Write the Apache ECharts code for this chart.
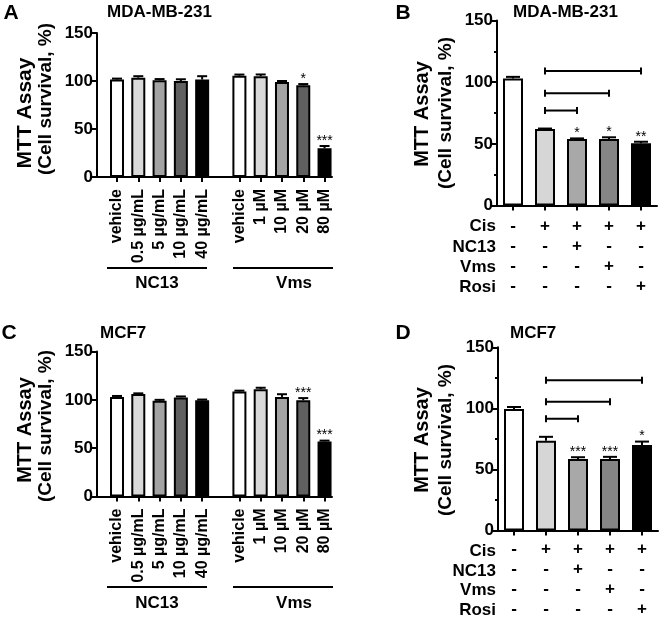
<!DOCTYPE html>
<html><head><meta charset="utf-8">
<script src="https://cdn.jsdelivr.net/npm/echarts@6/dist/echarts.min.js"></script>
<style>html,body{margin:0;padding:0;background:#fff}#c{width:660px;height:619px}</style>
</head><body><div id="c"></div>
<script>
// ---------- data ----------
const nc13Doses = ['vehicle', '0.5 µg/mL', '5 µg/mL', '10 µg/mL', '40 µg/mL'];
const vmsDoses = ['vehicle', '1 µM', '10 µM', '20 µM', '80 µM'];
const groupNames = ['NC13', 'Vms'];

// Panel A: MDA-MB-231 dose response
const mdaNC13 = [101.5, 103.5, 100.8, 100.0, 101.5];
const mdaNC13Err = [1.0, 1.5, 1.2, 1.8, 3.5];
const mdaNC13Sig = ['', '', '', '', ''];
const mdaVms = [105.5, 105.0, 99.0, 95.5, 30.0];
const mdaVmsErr = [1.2, 1.8, 1.0, 1.3, 2.3];
const mdaVmsSig = ['', '', '', '*', '***'];

// Panel C: MCF7 dose response
const mcfNC13 = [103.0, 106.0, 99.0, 102.5, 99.5];
const mcfNC13Err = [1.0, 0.7, 1.0, 1.0, 0.8];
const mcfNC13Sig = ['', '', '', '', ''];
const mcfVms = [108.5, 111.0, 103.0, 99.5, 57.0];
const mcfVmsErr = [1.0, 1.5, 2.8, 2.3, 0.8];
const mcfVmsSig = ['', '', '', '***', '***'];

// Panels B / D: combination treatments
const treatRows = ['Cis', 'NC13', 'Vms', 'Rosi'];
const treatSigns = [
  ['-', '+', '+', '+', '+'],
  ['-', '-', '+', '-', '-'],
  ['-', '-', '-', '+', '-'],
  ['-', '-', '-', '-', '+']
];
const mdaCombo = [103.0, 62.0, 54.0, 54.0, 50.5];
const mdaComboErr = [1.3, 0.4, 0.4, 1.3, 1.2];
const mdaComboSig = ['', '', '*', '*', '**'];
const mcfCombo = [99.5, 73.5, 58.5, 58.5, 70.0];
const mcfComboErr = [1.6, 3.2, 1.5, 1.8, 2.8];
const mcfComboSig = ['', '', '***', '***', '*'];
const comparePairs = [[1, 2], [1, 3], [1, 4]];
const mdaBracketLevels = [77, 91, 109];
const mcfBracketLevels = [91.5, 105.5, 123];

const yTicks = [0, 50, 100, 150];

// ---------- styling ----------
const FF = '"Liberation Sans", Arial, Helvetica, sans-serif';
const doseColors = ['#ffffff', '#d9d9d9', '#a3a3a3', '#606060', '#000000'];
const comboColors = ['#ffffff', '#d6d6d6', '#a8a8a8', '#858585', '#000000'];
const GAP = 0.75;

const chart = echarts.init(document.getElementById('c'));

const grids = [
  {left: 97, top: 33, width: 235, height: 144},     // A
  {left: 497, top: 20.5, width: 160, height: 185},  // B
  {left: 97, top: 351.5, width: 235, height: 145},  // C
  {left: 498, top: 347.3, width: 160, height: 186}  // D
];

const xAxes = [], yAxes = [], series = [];

function yAxisFor(gi, minor) {
  return {
    type: 'value', gridIndex: gi, min: yTicks[0], max: yTicks[yTicks.length - 1], interval: 50,
    axisLine: {show: true, onZero: false, lineStyle: {color: '#000', width: 2}},
    axisTick: {show: true, length: 5, lineStyle: {color: '#000', width: 2}},
    minorTick: {show: !!minor, splitNumber: 2, length: 3, lineStyle: {color: '#000', width: 2}},
    axisLabel: {margin: 4, color: '#000', fontSize: 17, fontWeight: 'bold', fontFamily: FF},
    splitLine: {show: false}
  };
}

function errSeries(gi, data, sigs, capHalf) {
  return {
    type: 'custom', xAxisIndex: gi, yAxisIndex: gi, z: 5,
    data: data,
    renderItem: function (params, api) {
      const x = api.value(0), v = api.value(1), e = api.value(2);
      const p0 = api.coord([x, v]);
      const p1 = api.coord([x, v + e]);
      const ch = [
        {type: 'line', shape: {x1: p0[0], y1: p0[1], x2: p1[0], y2: p1[1]}, style: {stroke: '#000', lineWidth: 2}},
        {type: 'line', shape: {x1: p1[0] - capHalf, y1: p1[1], x2: p1[0] + capHalf, y2: p1[1]}, style: {stroke: '#000', lineWidth: 2}}
      ];
      const s = sigs[params.dataIndex];
      if (s) ch.push({type: 'text', style: {text: s, x: p1[0], y: p1[1] + 2, align: 'center', verticalAlign: 'bottom', font: '14px ' + FF, fill: '#000'}});
      return {type: 'group', children: ch};
    }
  };
}

function dosePanel(gi, v1, e1, s1, v2, e2, s2) {
  const pos = [], labels = [], vals = [], errs = [], sigs = [];
  [[nc13Doses, v1, e1, s1], [vmsDoses, v2, e2, s2]].forEach(function (g, gIdx) {
    g[0].forEach(function (lab, i) {
      pos.push(gIdx * (g[0].length + GAP) + i);
      labels.push(lab); vals.push(g[1][i]); errs.push(g[2][i]); sigs.push(g[3][i]);
    });
  });
  xAxes.push({
    type: 'value', gridIndex: gi, min: -0.94, max: 10.1,
    axisLine: {show: true, onZero: false, lineStyle: {color: '#000', width: 2}},
    axisTick: {show: true, customValues: pos, length: 5, lineStyle: {color: '#000', width: 2}},
    axisLabel: {
      customValues: pos, rotate: 90, margin: 12, color: '#000', fontSize: 16, fontWeight: 'bold', fontFamily: FF,
      formatter: function (v) {
        let best = 0;
        pos.forEach(function (p, i) { if (Math.abs(p - v) < Math.abs(pos[best] - v)) best = i; });
        return labels[best];
      }
    },
    splitLine: {show: false}
  });
  yAxes.push(yAxisFor(gi, false));
  series.push({
    type: 'bar', xAxisIndex: gi, yAxisIndex: gi, barWidth: 14,
    data: pos.map(function (p, i) { return {value: [p, vals[i]], itemStyle: {color: doseColors[i % 5]}}; }),
    itemStyle: {borderColor: '#000', borderWidth: 2}
  });
  series.push(errSeries(gi, pos.map(function (p, i) { return [p, vals[i], errs[i]]; }), sigs, 5));
}

function comboPanel(gi, vals, errs, sigs, levels, labelMargin) {
  const cats = treatSigns[0].map(function (_, c) { return treatSigns.map(function (r) { return r[c]; }).join('\n'); });
  xAxes.push({
    type: 'category', gridIndex: gi, data: cats,
    axisLine: {show: true, lineStyle: {color: '#000', width: 2}},
    axisTick: {show: true, alignWithLabel: true, length: 5, lineStyle: {color: '#000', width: 2}},
    axisLabel: {interval: 0, margin: labelMargin, color: '#000', fontSize: 17, fontWeight: 'bold', fontFamily: FF, lineHeight: 20},
    splitLine: {show: false}
  });
  yAxes.push(yAxisFor(gi, true));
  series.push({
    type: 'bar', xAxisIndex: gi, yAxisIndex: gi, barWidth: 20,
    data: vals.map(function (v, i) { return {value: v, itemStyle: {color: comboColors[i]}}; }),
    itemStyle: {borderColor: '#000', borderWidth: 2}
  });
  series.push(errSeries(gi, vals.map(function (v, i) { return [i, v, errs[i]]; }), sigs, 7));
  series.push({
    type: 'custom', xAxisIndex: gi, yAxisIndex: gi, z: 6,
    encode: {x: [0, 1], y: 2},
    data: comparePairs.map(function (pr, k) { return [pr[0], pr[1], levels[k]]; }),
    renderItem: function (params, api) {
      const a = api.coord([api.value(0), api.value(2)]);
      const b = api.coord([api.value(1), api.value(2)]);
      const st = {stroke: '#000', lineWidth: 2};
      return {type: 'group', children: [
        {type: 'line', shape: {x1: a[0], y1: a[1], x2: b[0], y2: b[1]}, style: st},
        {type: 'line', shape: {x1: a[0], y1: a[1] - 3.5, x2: a[0], y2: a[1] + 3.5}, style: st},
        {type: 'line', shape: {x1: b[0], y1: b[1] - 3.5, x2: b[0], y2: b[1] + 3.5}, style: st}
      ]};
    }
  });
}

dosePanel(0, mdaNC13, mdaNC13Err, mdaNC13Sig, mdaVms, mdaVmsErr, mdaVmsSig);
comboPanel(1, mdaCombo, mdaComboErr, mdaComboSig, mdaBracketLevels, 11);
dosePanel(2, mcfNC13, mcfNC13Err, mcfNC13Sig, mcfVms, mcfVmsErr, mcfVmsSig);
comboPanel(3, mcfCombo, mcfComboErr, mcfComboSig, mcfBracketLevels, 8.5);

// ---------- text annotations ----------
const g = [];
function txt(t, x, y, font, align, rot) {
  g.push({type: 'text', x: x, y: y, rotation: rot || 0, style: {text: t, font: font, fill: '#000', align: align || 'center', verticalAlign: 'middle'}});
}
function hline(x1, x2, y) {
  g.push({type: 'line', shape: {x1: x1, y1: y, x2: x2, y2: y}, style: {stroke: '#000', lineWidth: 2}});
}
const bold = function (s) { return 'bold ' + s + 'px ' + FF; };
// panel letters & titles
txt('A', 11, 13, bold(21)); txt('B', 403, 13, bold(21));
txt('C', 9, 333, bold(21)); txt('D', 403, 333, bold(21));
txt('MDA-MB-231', 107, 12, bold(17), 'left');
txt('MDA-MB-231', 513, 12, bold(17), 'left');
txt('MCF7', 100, 333, bold(17), 'left');
txt('MCF7', 510, 333, bold(17), 'left');
// y-axis names
const R = Math.PI / 2;
txt('MTT Assay', 25, 113, bold(21), 'center', R);
txt('(Cell survival, %)', 46, 99, bold(19), 'center', R);
txt('MTT Assay', 25, 430, bold(20), 'center', R);
txt('(Cell survival, %)', 46, 426, bold(19), 'center', R);
txt('MTT Assay', 422, 114, bold(20), 'center', R);
txt('(Cell survival, %)', 446, 113, bold(19), 'center', R);
txt('MTT Assay', 422, 440, bold(20), 'center', R);
txt('(Cell survival, %)', 446, 440, bold(19), 'center', R);
// group labels under dose panels
[[268, 283], [587, 603]].forEach(function (yy) {
  hline(107, 207, yy[0]); hline(233, 333, yy[0]);
  txt(groupNames[0], 157, yy[1], bold(17));
  txt(groupNames[1], 294, yy[1], bold(17));
});
// treatment row labels
[[226.7, 20.2], [551.7, 19.5]].forEach(function (r) {
  treatRows.forEach(function (name, k) { txt(name, 496, r[0] + k * r[1], bold(17), 'right'); });
});

chart.setOption({
  animation: false,
  backgroundColor: '#fff',
  grid: grids,
  xAxis: xAxes,
  yAxis: yAxes,
  series: series,
  graphic: g
});
</script>
</body></html>
